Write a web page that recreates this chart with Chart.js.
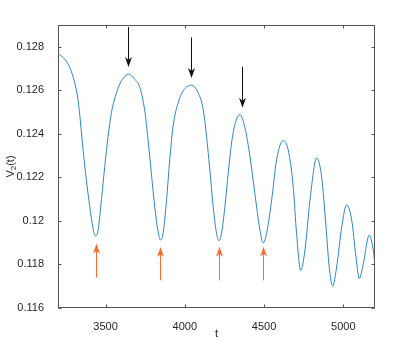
<!DOCTYPE html>
<html>
<head>
<meta charset="utf-8">
<script src="https://cdn.jsdelivr.net/npm/chart.js@4.4.1/dist/chart.umd.min.js"></script>
<style>
  html, body { margin: 0; padding: 0; background: #fff; }
  #wrap { width: 415px; height: 346px; }
</style>
</head>
<body>
<div id="wrap"><canvas id="chart"></canvas></div>
<script>
// V2(t) trace
const tValues = [3200, 3242, 3274, 3305, 3326, 3337, 3358, 3379, 3400, 3421,
  3436, 3453, 3474, 3495, 3516, 3537, 3569, 3600, 3646, 3684,
  3716, 3748, 3768, 3790, 3811, 3832, 3847, 3863, 3885, 3905,
  3926, 3958, 3989, 4042, 4084, 4116, 4137, 4158, 4179, 4200,
  4215, 4232, 4253, 4274, 4295, 4316, 4347, 4379, 4411, 4442,
  4474, 4495, 4516, 4548, 4579, 4621, 4652, 4684, 4705, 4731,
  4758, 4790, 4832, 4863, 4891, 4911, 4933, 4958, 4990, 5021,
  5053, 5080, 5101, 5126, 5164, 5189, 5200];
const vValues = [0.12769, 0.12743, 0.12705, 0.12636, 0.12558, 0.12489, 0.12327, 0.12189, 0.12066, 0.11966,
  0.11930, 0.11958, 0.12097, 0.12250, 0.12389, 0.12497, 0.12589, 0.12643, 0.12674, 0.12651,
  0.12614, 0.12503, 0.12374, 0.12212, 0.12060, 0.11949, 0.11912, 0.11944, 0.12097, 0.12281,
  0.12435, 0.12543, 0.12597, 0.12623, 0.12589, 0.12512, 0.12389, 0.12235, 0.12066, 0.11944,
  0.11909, 0.11944, 0.12066, 0.12220, 0.12358, 0.12443, 0.12489, 0.12429, 0.12297, 0.12127,
  0.11958, 0.11899, 0.11943, 0.12097, 0.12281, 0.12369, 0.12327, 0.12158, 0.11943, 0.11773,
  0.11866, 0.12097, 0.12289, 0.12204, 0.11973, 0.11788, 0.11701, 0.11788, 0.11973, 0.12073,
  0.12004, 0.11835, 0.11735, 0.11804, 0.11935, 0.11866, 0.11796];

// arrows: black ones point down at the maxima, orange ones up at the minima
const downArrowT = [3642, 4042, 4360];
const downArrowFrom = [0.12891, 0.12843, 0.12708];
const downArrowTo = [0.12707, 0.12656, 0.12520];
const upArrowT = [3442, 3843, 4213, 4495];
const upArrowFrom = [0.11740, 0.11727, 0.11727, 0.11727];
const upArrowTo = [0.11895, 0.11880, 0.11881, 0.11881];

const xTicks = [3500, 4000, 4500, 5000];
const yTicks = [0.116, 0.118, 0.12, 0.122, 0.124, 0.126, 0.128];

const axisColor = '#555555';
const textColor = '#262626';
const fontFamily = "'Liberation Sans', Arial, Helvetica, sans-serif";

function drawArrow(ctx, x, y0, y1, color) {
    // shaft from y0 to y1, notched head at y1
    const dir = y1 > y0 ? 1 : -1;
    const headLen = 10, halfW = 3.5, notch = 3;
    ctx.strokeStyle = color;
    ctx.fillStyle = color;
    ctx.lineWidth = 1;
    ctx.beginPath();
    ctx.moveTo(x, y0);
    ctx.lineTo(x, y1 - dir * (headLen - notch));
    ctx.stroke();
    ctx.beginPath();
    ctx.moveTo(x, y1);
    ctx.lineTo(x - halfW, y1 - dir * headLen);
    ctx.lineTo(x, y1 - dir * (headLen - notch));
    ctx.lineTo(x + halfW, y1 - dir * headLen);
    ctx.closePath();
    ctx.fill();
}

const framePlugin = {
    id: 'frame',
    afterDatasetsDraw(chart) {
        const { ctx, chartArea: a, scales: { x, y } } = chart;
        ctx.save();

        // box with inward ticks on all sides
        ctx.strokeStyle = axisColor;
        ctx.lineWidth = 1;
        const L = Math.round(a.left) + 0.5, R = Math.round(a.right) - 0.5;
        const T = Math.round(a.top) + 0.5, B = Math.round(a.bottom) - 0.5;
        ctx.strokeRect(L, T, R - L, B - T);
        ctx.beginPath();
        xTicks.forEach(v => {
            const px = Math.round(x.getPixelForValue(v)) + 0.5;
            ctx.moveTo(px, B); ctx.lineTo(px, B - 3);
            ctx.moveTo(px, T); ctx.lineTo(px, T + 3);
        });
        yTicks.forEach(v => {
            const py = Math.round(y.getPixelForValue(v)) + 0.5;
            ctx.moveTo(L, py); ctx.lineTo(L + 3, py);
            ctx.moveTo(R, py); ctx.lineTo(R - 3, py);
        });
        ctx.stroke();

        // arrows
        downArrowT.forEach((t, i) => {
            drawArrow(ctx, Math.round(x.getPixelForValue(t)) + 0.5,
                y.getPixelForValue(downArrowFrom[i]), y.getPixelForValue(downArrowTo[i]), '#111111');
        });
        upArrowT.forEach((t, i) => {
            drawArrow(ctx, Math.round(x.getPixelForValue(t)) + 0.5,
                y.getPixelForValue(upArrowFrom[i]), y.getPixelForValue(upArrowTo[i]), '#ff6a2e');
        });

        // axis titles
        ctx.fillStyle = textColor;
        ctx.font = '11px ' + fontFamily;
        ctx.textAlign = 'center';
        ctx.textBaseline = 'middle';
        ctx.fillText('t', (a.left + a.right) / 2, 334);

        ctx.translate(11, (a.top + a.bottom) / 2);
        ctx.rotate(-Math.PI / 2);
        ctx.textAlign = 'left';
        const w1 = ctx.measureText('V').width;
        ctx.font = '8px ' + fontFamily;
        const w2 = ctx.measureText('2').width;
        ctx.font = '11px ' + fontFamily;
        const w3 = ctx.measureText('(t)').width;
        let cx = -(w1 + w2 + w3) / 2;
        ctx.fillText('V', cx, 0);
        cx += w1;
        ctx.font = '8px ' + fontFamily;
        ctx.fillText('2', cx, 3);
        cx += w2;
        ctx.font = '11px ' + fontFamily;
        ctx.fillText('(t)', cx, 0);

        ctx.restore();
    }
};

new Chart(document.getElementById('chart'), {
    type: 'line',
    data: {
        datasets: [{
            data: tValues.map((t, i) => ({ x: t, y: vValues[i] })),
            borderColor: '#2a86cf',
            borderWidth: 1,
            pointRadius: 0,
            cubicInterpolationMode: 'monotone',
            fill: false
        }]
    },
    options: {
        responsive: true,
        maintainAspectRatio: false,
        animation: false,
        layout: { padding: { left: 0, right: 40, top: 25, bottom: 0 } },
        plugins: { legend: { display: false }, tooltip: { enabled: false } },
        scales: {
            x: {
                type: 'linear',
                min: 3200,
                max: 5200,
                grid: { display: false },
                border: { display: false },
                afterBuildTicks: s => { s.ticks = xTicks.map(v => ({ value: v })); },
                afterFit: s => { s.height = 38; },
                ticks: {
                    color: textColor,
                    font: { family: fontFamily, size: 11 },
                    padding: 4,
                    maxRotation: 0,
                    callback: v => String(v)
                }
            },
            y: {
                min: 0.116,
                max: 0.129,
                grid: { display: false },
                border: { display: false },
                afterBuildTicks: s => { s.ticks = yTicks.map(v => ({ value: v })); },
                afterFit: s => { s.width = 58; },
                ticks: {
                    color: textColor,
                    font: { family: fontFamily, size: 11 },
                    padding: 6,
                    callback: v => String(+v.toFixed(3))
                }
            }
        }
    },
    plugins: [framePlugin]
});
</script>
</body>
</html>
